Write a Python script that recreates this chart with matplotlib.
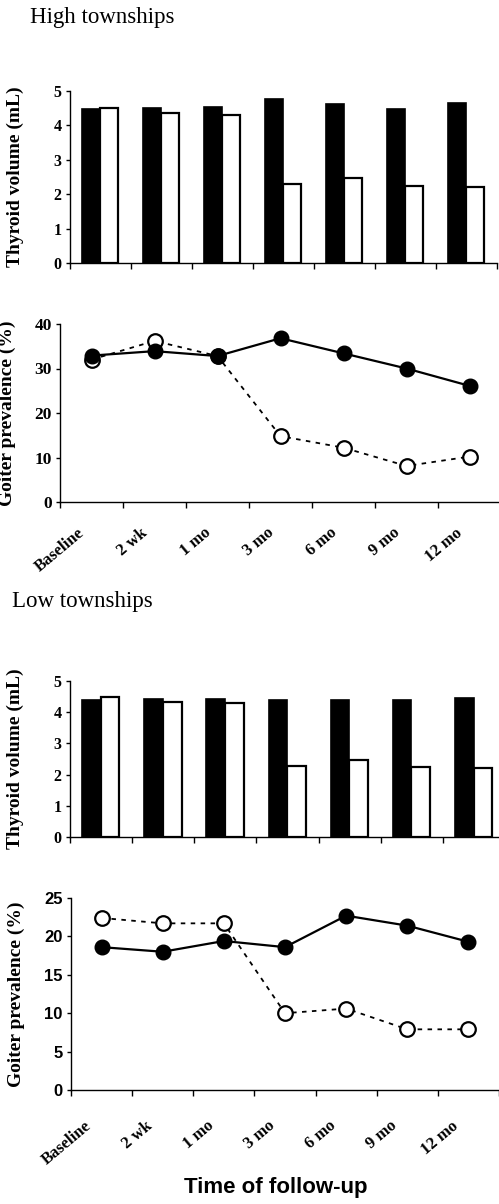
import matplotlib
matplotlib.use("Agg")
import matplotlib.pyplot as plt
from matplotlib.transforms import ScaledTranslation
import numpy as np

categories = ["Baseline", "2 wk", "1 mo", "3 mo", "6 mo", "9 mo", "12 mo"]
high_vol_filled = [4.48, 4.50, 4.53, 4.75, 4.60, 4.48, 4.65]
high_vol_open = [4.50, 4.34, 4.30, 2.30, 2.46, 2.23, 2.21]
high_goiter_filled = [32.9, 33.9, 32.8, 36.8, 33.4, 30.0, 26.1]
high_goiter_open = [32.0, 36.2, 32.8, 14.8, 12.2, 8.1, 10.2]
low_vol_filled = [4.39, 4.42, 4.42, 4.39, 4.40, 4.39, 4.47]
low_vol_open = [4.48, 4.34, 4.29, 2.28, 2.46, 2.23, 2.21]
low_goiter_filled = [18.6, 18.0, 19.4, 18.6, 22.7, 21.4, 19.3]
low_goiter_open = [22.4, 21.7, 21.7, 10.0, 10.6, 7.9, 7.9]

SERIF = "Liberation Serif"
SANS = "Liberation Sans"

W, H = 499, 1204
fig = plt.figure(figsize=(W / 100, H / 100), dpi=100)


def add_axes(left, right, top, bottom):
    return fig.add_axes([left / W, 1 - bottom / H, (right - left) / W, (bottom - top) / H])


def style(ax, ylim, yticks, tickfont, tickfs, ylabel, ylabel_x_px, left_px, width_px,
          show_labels, label_pad_px=30, label_dx_px=-10):
    x = np.arange(len(categories))
    ax.set_xlim(-0.5, len(categories) - 0.5)
    ax.set_ylim(*ylim)
    ax.spines["top"].set_visible(False)
    ax.spines["right"].set_visible(False)
    for s in ("left", "bottom"):
        ax.spines[s].set_linewidth(1.0)
    ax.set_yticks(yticks)
    ax.set_yticklabels([str(v) for v in yticks], family=tickfont, fontweight="bold", fontsize=tickfs)
    ax.tick_params(axis="y", direction="out", length=3, width=1, pad=3)
    ax.set_xticks(np.arange(-0.5, len(categories) + 0.5, 1.0), minor=True)
    ax.tick_params(axis="x", which="minor", direction="out", length=4, width=1)
    ax.set_xticks(x)
    ax.tick_params(axis="x", which="major", length=0, pad=label_pad_px * 0.72)
    if show_labels:
        labels = ax.set_xticklabels(categories, rotation=40, ha="right", va="center",
                                    rotation_mode="anchor", family=SERIF,
                                    fontweight="bold", fontsize=12)
        off = ScaledTranslation(label_dx_px / 100, 0, fig.dpi_scale_trans)
        for lab in labels:
            lab.set_transform(lab.get_transform() + off)
    else:
        ax.set_xticklabels([])
    ax.set_ylabel(ylabel, family=SERIF, fontweight="bold", fontsize=14)
    ax.yaxis.set_label_coords((ylabel_x_px - left_px) / width_px, 0.5)


def bars(ax, filled, opened):
    x = np.arange(len(categories))
    w = 0.30
    ax.bar(x - 0.155, filled, width=w, color="black", edgecolor="black", linewidth=1.2, zorder=2)
    ax.bar(x + 0.145, opened, width=w, color="white", edgecolor="black", linewidth=1.6, zorder=2)


def lines(ax, filled, opened):
    x = np.arange(len(categories))
    ax.plot(x, opened, linestyle=(0, (2.5, 3.0)), color="black", linewidth=1.3,
            marker="o", markersize=10.5, markerfacecolor="white", markeredgecolor="black",
            markeredgewidth=1.6, zorder=3, clip_on=False)
    ax.plot(x, filled, linestyle="-", color="black", linewidth=1.6,
            marker="o", markersize=10.5, markerfacecolor="black", markeredgecolor="black",
            zorder=4, clip_on=False)


# Panel 1: high townships thyroid volume
ax1 = add_axes(70, 497, 90.7, 263)
bars(ax1, high_vol_filled, high_vol_open)
style(ax1, (0, 5), [0, 1, 2, 3, 4, 5], SERIF, 11.5, "Thyroid volume (mL)", 24, 70, 427, False)

# Panel 2: high townships goiter prevalence
ax2 = add_axes(60, 501, 324, 502)
lines(ax2, high_goiter_filled, high_goiter_open)
style(ax2, (0, 40), [0, 10, 20, 30, 40], SERIF, 12.5, "Goiter prevalence (%)", 16, 60, 441, True,
      label_pad_px=29, label_dx_px=-9)

# Panel 3: low townships thyroid volume
ax3 = add_axes(70, 505, 681, 837)
bars(ax3, low_vol_filled, low_vol_open)
style(ax3, (0, 5), [0, 1, 2, 3, 4, 5], SERIF, 11.5, "Thyroid volume (mL)", 24, 70, 435, False)

# Panel 4: low townships goiter prevalence
ax4 = add_axes(71, 499, 898, 1090)
lines(ax4, low_goiter_filled, low_goiter_open)
style(ax4, (0, 25), [0, 5, 10, 15, 20, 25], SANS, 12, "Goiter prevalence (%)", 25, 71, 428, True,
      label_pad_px=34, label_dx_px=-12)

fig.text(30 / W, 1 - 18 / H, "High townships", ha="left", va="center", family=SERIF, fontsize=16.5)
fig.text(12 / W, 1 - 602 / H, "Low townships", ha="left", va="center", family=SERIF, fontsize=16.5)
fig.text(276 / W, 1 - 1188 / H, "Time of follow-up", ha="center", va="center", family=SANS,
         fontweight="bold", fontsize=16)

fig.savefig("out.png", dpi=100)
